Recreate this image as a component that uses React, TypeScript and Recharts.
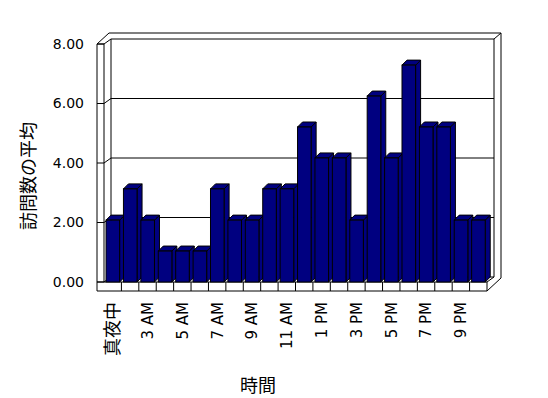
import { Bar, BarChart, ReferenceArea, XAxis, YAxis } from "recharts";

const hours = [
  "真夜中", "1 AM", "3 AM", "4 AM", "5 AM", "6 AM", "7 AM", "8 AM", "9 AM", "10 AM", "11 AM",
  "12 PM", "1 PM", "2 PM", "3 PM", "4 PM", "5 PM", "6 PM", "7 PM", "8 PM", "9 PM", "10 PM",
];
const visits = [
  2.08, 3.13, 2.08, 1.04, 1.04, 1.04, 3.13, 2.08, 2.08, 3.13, 3.13,
  5.21, 4.17, 4.17, 2.08, 6.25, 4.17, 7.29, 5.21, 5.21, 2.08, 2.08,
];
const yTicks = [0, 2, 4, 6, 8];

const data = hours.map((h, i) => ({ h, v: visits[i] }));

const FONT = "'DejaVu Sans', 'Noto Sans CJK JP', sans-serif";
const NAVY = "#000080";
const DEPTH = 5; // bar depth
const WX = 7; // wall depth
const WY = 5;

// 3d bar: front face, top and right side
function Bar3D(props: any) {
  const { x, y, width, height } = props;
  if (height == null || height <= 0) return null;
  const fx = x + width * 0.12;
  const fw = width * 0.8;
  const d = DEPTH;
  const b = y + height;
  const top = `${fx},${y} ${fx + d},${y - d} ${fx + fw + d},${y - d} ${fx + fw},${y}`;
  const side = `${fx + fw},${y} ${fx + fw + d},${y - d} ${fx + fw + d},${b - d} ${fx + fw},${b}`;
  return (
    <g stroke="#000" strokeWidth={1} fill={NAVY}>
      <polygon points={side} />
      <polygon points={top} />
      <rect x={fx} y={y} width={fw} height={height} />
    </g>
  );
}

// walls, floor and gridlines around the plot box
function Frame(props: any) {
  const { x, y, width, height } = props;
  const L = x;
  const R = x + width;
  const T = y;
  const B = y + height;
  const n = hours.length;
  const seg: [number, number, number, number][] = [];
  // left wall front face
  seg.push([L - WX, T, L - WX, B + 9]);
  seg.push([L, T, L, B]);
  seg.push([L - WX, T, L, T]);
  // gridlines
  yTicks.forEach((t) => {
    const yy = B - (height * t) / 8;
    seg.push([L - WX, yy, L, yy]);
    seg.push([L, yy, L + WX, yy - WY]);
    seg.push([L + WX, yy - WY, R + WX, yy - WY]);
  });
  // back wall edges
  seg.push([L + WX, T - WY, L + WX, B - WY]);
  seg.push([R + WX, T - WY, R + WX, B - WY]);
  seg.push([R + 2 * WX, T - 11, R + 2 * WX, B - 4]);
  seg.push([L - WX, T, L + 5, T - 11]);
  seg.push([L + 5, T - 11, R + 2 * WX, T - 11]);
  seg.push([R + WX, T - WY, R + 2 * WX, T - 11]);
  // floor
  seg.push([L - WX, B, R, B]);
  seg.push([L - WX, B + 9, R, B + 9]);
  seg.push([R, B, R, B + 9]);
  seg.push([R, B, R + WX, B - WY]);
  seg.push([R, B + 9, R + 2 * WX, B - 4]);
  for (let k = 1; k < n; k++) {
    const xx = L + (width * k) / n;
    seg.push([xx, B, xx, B + 9]);
  }
  return (
    <g stroke="#000" strokeWidth={1} fill="none">
      {seg.map(([x1, y1, x2, y2], i) => (
        <line key={i} x1={x1} y1={y1} x2={x2} y2={y2} />
      ))}
    </g>
  );
}

function HourTick(props: any) {
  const { x, y, payload } = props;
  const cjk = /[^\x00-\x7f]/.test(String(payload.value));
  return (
    <text
      x={x}
      y={y}
      dy="0.36em"
      transform={`rotate(-90, ${x}, ${y})`}
      textAnchor="end"
      fill="#000"
      fontSize={cjk ? 18 : 15}
      fontFamily={FONT}
    >
      {payload.value}
    </text>
  );
}

export default function App() {
  return (
    <div style={{ position: "absolute", left: 0, top: 0, width: 548, height: 398, background: "#fff" }}>
      <BarChart
        width={548}
        height={398}
        data={data}
        margin={{ top: 44, right: 61, bottom: 0, left: 0 }}
        barCategoryGap={0}
      >
        <XAxis
          dataKey="h"
          interval={1}
          height={116}
          tickLine={false}
          axisLine={false}
          tickSize={0}
          tickMargin={20}
          tick={<HourTick />}
          label={{
            content: () => (
              <text x={258} y={392} textAnchor="middle" fill="#000" fontSize={18} fontFamily={FONT}>
                時間
              </text>
            ),
          }}
        />
        <YAxis
          width={104}
          domain={[0, 8]}
          ticks={yTicks}
          tickFormatter={(v: number) => v.toFixed(2)}
          tickLine={false}
          axisLine={false}
          tickSize={0}
          tickMargin={20}
          tick={{ fill: "#000", fontSize: 14, fontFamily: FONT }}
          label={{
            content: () => (
              <text
                x={28}
                y={176}
                dy="0.38em"
                transform="rotate(-90, 28, 176)"
                textAnchor="middle"
                fill="#000"
                fontSize={18}
                fontFamily={FONT}
              >
                訪問数の平均
              </text>
            ),
          }}
        />
        <ReferenceArea y1={0} y2={8} ifOverflow="visible" shape={<Frame />} />
        <Bar dataKey="v" fill={NAVY} shape={<Bar3D />} isAnimationActive={false} />
      </BarChart>
    </div>
  );
}
